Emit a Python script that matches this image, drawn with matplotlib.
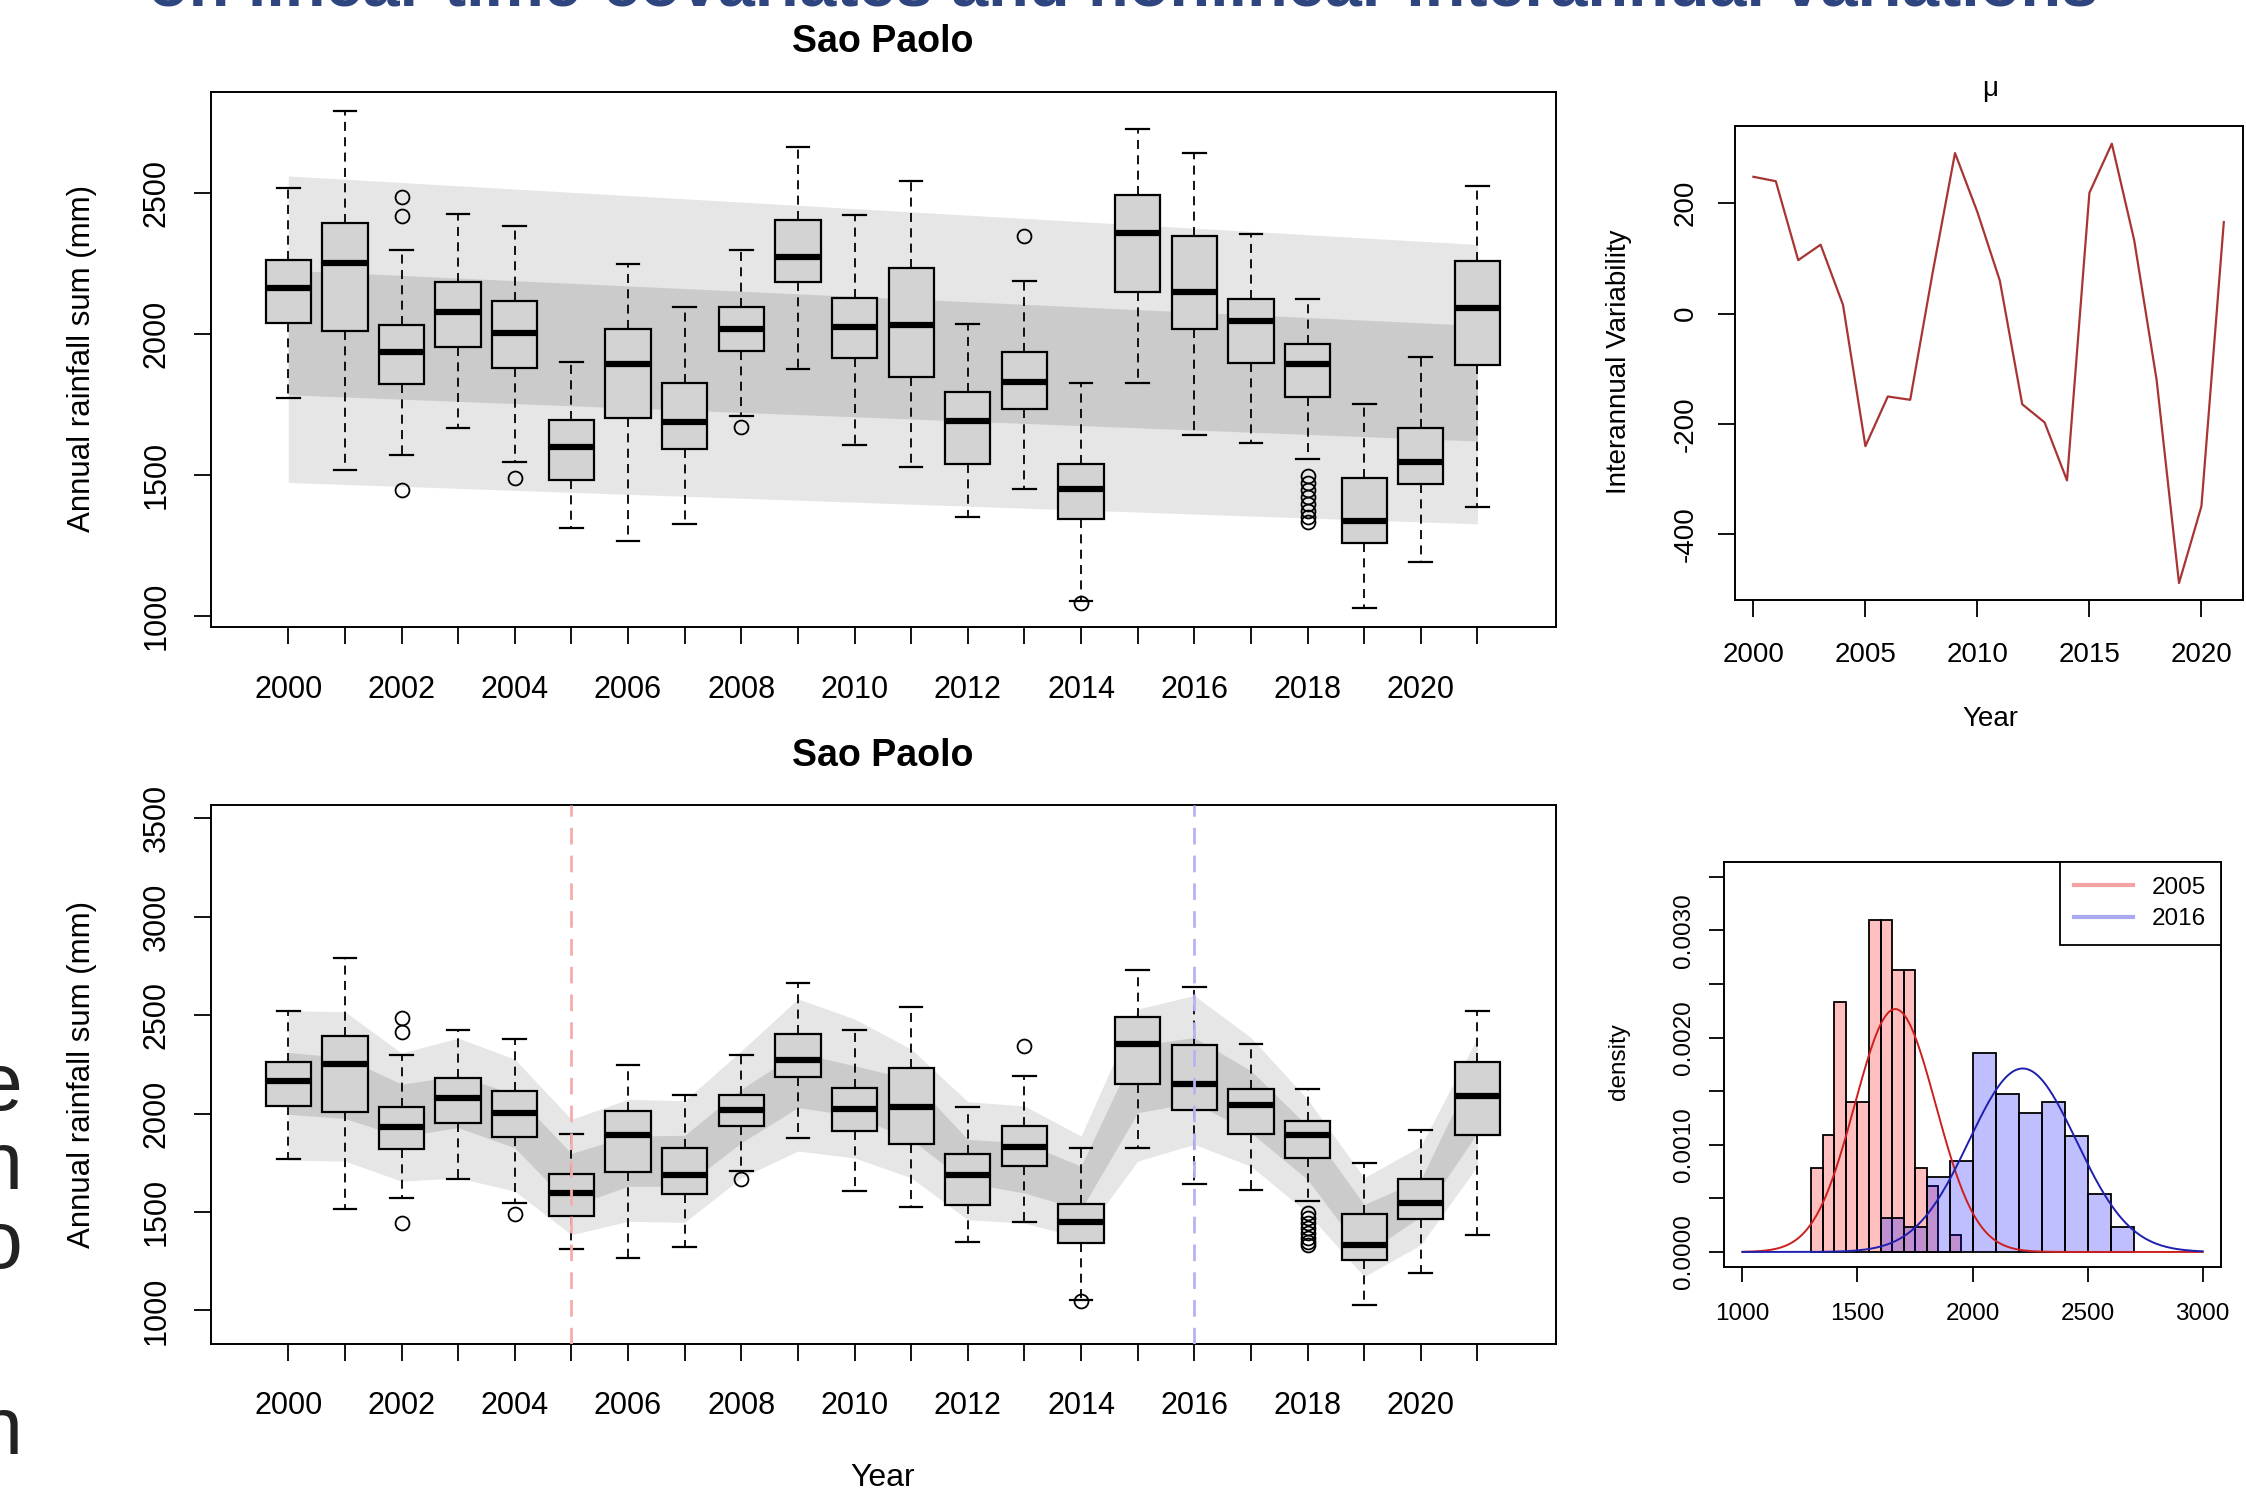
import numpy as np
import matplotlib
matplotlib.use("Agg")
import matplotlib.pyplot as plt

plt.rcParams['font.family'] = ['Liberation Sans', 'DejaVu Sans']

# annual rainfall boxplots, Sao Paolo
years = list(range(2000, 2022))
whis_hi = [2519, 2789, 2299, 2424, 2381, 1899, 2247, 2095, 2296, 2663, 2423,
           2541, 2035, 2189, 1825, 2728, 2642, 2353, 2125, 1750, 1919, 2524]
q3 = [2262, 2392, 2032, 2183, 2117, 1693, 2016, 1827, 2097, 2404, 2128,
      2232, 1794, 1937, 1540, 2492, 2348, 2123, 1964, 1488, 1667, 2260]
med = [2164, 2252, 1934, 2079, 2003, 1599, 1893, 1686, 2019, 2273, 2026,
       2033, 1690, 1830, 1448, 2356, 2150, 2045, 1893, 1335, 1546, 2092]
q1 = [2040, 2009, 1821, 1952, 1879, 1481, 1703, 1592, 1939, 2185, 1913,
      1847, 1537, 1732, 1344, 2150, 2017, 1898, 1776, 1257, 1466, 1890]
whis_lo = [1772, 1518, 1570, 1667, 1547, 1313, 1266, 1325, 1710, 1875, 1606,
           1528, 1350, 1450, 1053, 1825, 1641, 1612, 1556, 1029, 1191, 1386]
outliers = {2002: [2485, 2417, 1445], 2004: [1488], 2008: [1668], 2013: [2346],
            2014: [1046], 2018: [1495, 1470, 1445, 1420, 1395, 1370, 1350, 1334]}

# linear trend bands (top panel), at first and last year
trend_years = [2000, 2021]
trend_outer_hi = [2560, 2317]
trend_inner_hi = [2226, 2030]
trend_inner_lo = [1784, 1620]
trend_outer_lo = [1473, 1326]

# nonlinear bands (bottom panel)
nl_outer_hi = [2523, 2518, 2308, 2384, 2277, 1971, 2073, 2065, 2319, 2583, 2481,
               2328, 2061, 2039, 1886, 2532, 2600, 2387, 2073, 1674, 1835, 2387]
nl_inner_hi = [2311, 2285, 2150, 2192, 2099, 1798, 1886, 1890, 2124, 2311, 2243,
               2175, 1869, 1852, 1733, 2345, 2387, 2218, 1937, 1538, 1665, 2260]
nl_inner_lo = [1997, 1975, 1883, 1929, 1827, 1529, 1631, 1631, 1852, 2031, 1988,
               1869, 1648, 1597, 1512, 2005, 2056, 1903, 1665, 1283, 1478, 1903]
nl_outer_lo = [1764, 1759, 1657, 1674, 1606, 1385, 1453, 1448, 1674, 1810, 1775,
               1674, 1461, 1444, 1368, 1759, 1844, 1733, 1495, 1172, 1334, 1733]

# interannual variability mu
mu = [248, 240, 97, 125, 16, -240, -150, -156, 74, 291, 184,
      60, -164, -197, -302, 219, 308, 133, -120, -488, -349, 166]

# histograms 2005 / 2016
h05_left = [1300, 1350, 1400, 1450, 1500, 1550, 1600, 1650, 1700, 1750, 1800, 1850, 1900]
h05_dens = [0.00078, 0.00109, 0.00233, 0.0014, 0.0014, 0.0031, 0.0031,
            0.00263, 0.00263, 0.00078, 0.00062, 0.0, 0.000155]
h16_left = [1600, 1700, 1800, 1900, 2000, 2100, 2200, 2300, 2400, 2500, 2600]
h16_dens = [0.00032, 0.00023, 0.0007, 0.00085, 0.00186, 0.00147,
            0.0013, 0.0014, 0.00108, 0.00054, 0.00023]
fit_mean = {2005: 1664, 2016: 2218}
fit_sd = {2005: 176, 2016: 233}

fig = plt.figure(figsize=(22.46, 14.93), dpi=100)


def box_panel(ax, ylim, yticks):
    stats = []
    for i, y in enumerate(years):
        stats.append(dict(med=med[i], q1=q1[i], q3=q3[i], whislo=whis_lo[i],
                          whishi=whis_hi[i], fliers=outliers.get(y, [])))
    ax.bxp(stats, positions=years, widths=0.8, capwidths=0.4, patch_artist=True,
           manage_ticks=False,
           boxprops=dict(facecolor='#d3d3d3', edgecolor='black', linewidth=1.6),
           medianprops=dict(color='black', linewidth=4.5, solid_capstyle='butt'),
           whiskerprops=dict(color='black', linewidth=1.3, linestyle=(0, (5, 3.5))),
           capprops=dict(color='black', linewidth=1.6),
           flierprops=dict(marker='o', markerfacecolor='none', markeredgecolor='black',
                           markersize=10, markeredgewidth=1.3))
    ax.set_xlim(1998.63, 2022.38)
    ax.set_ylim(*ylim)
    ax.set_xticks(years)
    ax.set_xticklabels([str(y) if y % 2 == 0 else '' for y in years])
    ax.set_yticks(yticks)
    ax.set_yticklabels([str(v) for v in yticks], rotation=90, va='center')
    ax.tick_params(length=12, width=1.3, labelsize=22, pad=16)
    ax.tick_params(axis='x', pad=22)
    for s in ax.spines.values():
        s.set_linewidth(1.4)


# top left: linear trend
ax1 = fig.add_axes([0.0938, 0.5798, 0.5988, 0.3588])
ax1.fill_between(trend_years, trend_outer_lo, trend_outer_hi, color='#e6e6e6', lw=0, zorder=0)
ax1.fill_between(trend_years, trend_inner_lo, trend_inner_hi, color='#cbcbcb', lw=0, zorder=0.5)
box_panel(ax1, (959, 2859), [1000, 1500, 2000, 2500])

# bottom left: nonlinear
ax2 = fig.add_axes([0.0938, 0.1001, 0.5988, 0.3607])
ax2.fill_between(years, nl_outer_lo, nl_outer_hi, color='#e6e6e6', lw=0, zorder=0)
ax2.fill_between(years, nl_inner_lo, nl_inner_hi, color='#cbcbcb', lw=0, zorder=0.5)
box_panel(ax2, (832, 3568), [1000, 1500, 2000, 2500, 3000, 3500])
ax2.axvline(2005, color='#f4adad', lw=2.0, ls=(0, (6, 4)), zorder=5)
ax2.axvline(2016, color='#b4b4f2', lw=2.0, ls=(0, (6, 4)), zorder=5)

fig.text(0.393, 0.972, 'Sao Paolo', ha='center', va='center', fontsize=27, fontweight='bold')
fig.text(0.393, 0.4935, 'Sao Paolo', ha='center', va='center', fontsize=27, fontweight='bold')
fig.text(0.0365, 0.7602, 'Annual rainfall sum (mm)', rotation=90, ha='center', va='center', fontsize=22.5)
fig.text(0.0365, 0.2806, 'Annual rainfall sum (mm)', rotation=90, ha='center', va='center', fontsize=22.5)
fig.text(0.393, 0.0099, 'Year', ha='center', va='center', fontsize=23)

# top right: interannual variability
ax3 = fig.add_axes([0.7723, 0.598, 0.2262, 0.3176])
ax3.plot(years, mu, color='#a83434', lw=1.6)
ax3.set_xlim(1999.16, 2021.84)
ax3.set_ylim(-519, 340)
ax3.set_xticks([2000, 2005, 2010, 2015, 2020])
ax3.set_yticks([-400, -200, 0, 200])
ax3.set_yticklabels(['-400', '-200', '0', '200'], rotation=90, va='center')
ax3.tick_params(length=12, width=1.3, labelsize=20, pad=14)
ax3.tick_params(axis='x', pad=18)
for s in ax3.spines.values():
    s.set_linewidth(1.4)
fig.text(0.886, 0.9405, '\u03bc', ha='center', va='center', fontsize=20)
fig.text(0.886, 0.5184, 'Year', ha='center', va='center', fontsize=20)
fig.text(0.7207, 0.758, 'Interannual Variability', rotation=90, ha='center', va='center', fontsize=20)

# bottom right: histograms with normal fits
ax4 = fig.add_axes([0.7676, 0.1514, 0.2213, 0.2713])
ax4.bar(h05_left, h05_dens, width=50, align='edge', color=(1, 0, 0, 0.25),
        edgecolor='black', linewidth=1.3)
ax4.bar(h16_left, h16_dens, width=100, align='edge', color=(0, 0, 1, 0.25),
        edgecolor='black', linewidth=1.3)
xs = np.linspace(1000, 3000, 400)
for yr, col in [(2005, '#cc1f1f'), (2016, '#1f1fb0')]:
    m, sd = fit_mean[yr], fit_sd[yr]
    ax4.plot(xs, np.exp(-0.5 * ((xs - m) / sd) ** 2) / (sd * np.sqrt(2 * np.pi)),
             color=col, lw=1.4)
ax4.plot([], [], color='#f4a3a3', lw=3, label='2005')
ax4.plot([], [], color='#a9a9f0', lw=3, label='2016')
leg = ax4.legend(loc='upper right', fontsize=17.5, frameon=True, fancybox=False,
                 edgecolor='black', framealpha=1, borderaxespad=0, handlelength=2.4,
                 borderpad=0.6, labelspacing=0.4)
leg.get_frame().set_linewidth(1.3)
ax4.set_xlim(920, 3080)
ax4.set_ylim(-0.00014, 0.00364)
ax4.set_xticks([1000, 1500, 2000, 2500, 3000])
yt = [0.0, 0.0005, 0.001, 0.0015, 0.002, 0.0025, 0.003, 0.0035]
ax4.set_yticks(yt)
ax4.set_yticklabels(['%.4f' % v if i % 2 == 0 else '' for i, v in enumerate(yt)],
                    rotation=90, va='center')
ax4.tick_params(length=11, width=1.3, labelsize=17.5, pad=10)
ax4.tick_params(axis='x', pad=15)
for s in ax4.spines.values():
    s.set_linewidth(1.4)
fig.text(0.7207, 0.2893, 'density', rotation=90, ha='center', va='center', fontsize=17.5)

# slide text cut off at the edges
fig.text(0.5, 0.9962, 'on linear time-covariates and nonlinear interannual variations',
         ha='center', va='baseline', fontsize=48, fontweight='bold', color='#2f4580')
for ch, yy in [('e', 0.2565), ('n', 0.2036), ('o', 0.1507), ('n', 0.0261)]:
    fig.text(0.0098, yy, ch, ha='right', va='baseline', fontsize=58, color='#222222')

fig.savefig('out.png', dpi=100)
